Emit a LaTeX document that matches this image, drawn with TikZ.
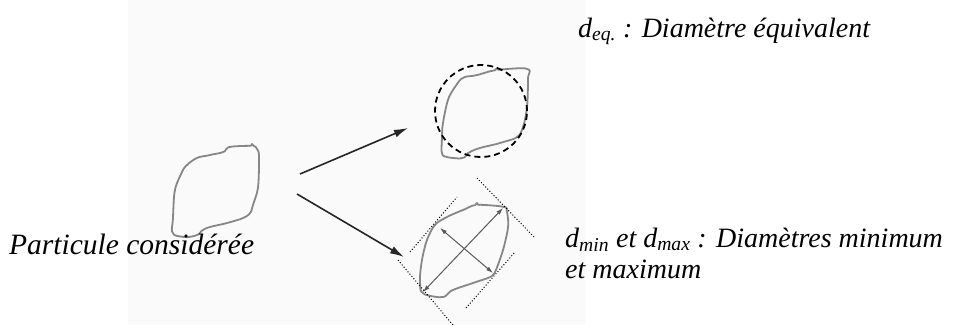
\documentclass[tikz,border=0pt]{standalone}
\usepackage{fontspec}
\setmainfont{Liberation Serif}
\usetikzlibrary{positioning}
\usetikzlibrary{calc}
\usetikzlibrary{arrows.meta}
\definecolor{contour}{RGB}{135,135,135}
\definecolor{photobg}{RGB}{250,250,250}

\tikzset{
  grain/.style={draw=contour, line width=1.8pt, line join=round, rounded corners=2pt},
  lbl/.style={inner sep=0pt, anchor=base west, font=\fontsize{28}{31}\selectfont\itshape},
  mainarrow/.style={draw=black!85, line width=1.6pt, -{Latex[length=14pt,width=8pt]}},
  diam/.style={draw=black!65, line width=1pt, {Latex[length=7pt,width=4.5pt]}-{Latex[length=7pt,width=4.5pt]}},
  tangent/.style={draw=black, line width=1pt, dotted}
}

\begin{document}
\begin{tikzpicture}[x=1pt, y=-1pt]
    \useasboundingbox (0,0) rectangle (954,325);
    % faint photo background
    \fill[photobg] (128,0) rectangle (585,325);

    % LEFT: the particle itself
    \draw[grain] plot[smooth cycle, tension=0.5] coordinates {
      (230,147) (252,146) (257,149) (259,157) (258,187) (253,205) (250,213)
      (243,218) (227,223) (210,227) (203,230) (197,235) (185,237) (173,233)
      (173,217) (175,190) (182,172) (187,165) (197,158) (210,155) (223,152)};
    \node[lbl, font=\fontsize{29.5}{31}\selectfont\itshape] (part) at (9,254) {Particule considérée};

    % arrows to both measurements
    \coordinate (src1) at (300,174);
    \coordinate (dst1) at (408,128);
    \coordinate (src2) at (297,194);
    \coordinate (dst2) at (404,257);
    \draw[mainarrow] (src1) -- (dst1);
    \draw[mainarrow] (src2) -- (dst2);

    % TOP: equivalent diameter
    \draw[grain] plot[smooth cycle, tension=0.5] coordinates {
      (527,69) (497,70) (477,75) (463,78) (455,87) (448,100) (443,123)
      (442,137) (442,153) (447,157) (462,158) (470,152) (480,148) (500,143)
      (517,137) (523,127) (527,107) (528,80)};
    \node[circle, draw=black, line width=1.8pt, dash pattern=on 6pt off 4pt,
          minimum size=92pt, inner sep=0pt] (eqcirc) at (481,111) {};
    \node[lbl] (deq) at (578,37) {d\textsubscript{eq.} : Diamètre équivalent};

    % BOTTOM: min and max diameters
    \draw[grain] plot[smooth cycle, tension=0.5] coordinates {
      (504,207) (477,205) (463,210) (447,217) (435,225) (427,240) (422,260)
      (420,280) (423,293) (442,297) (453,290) (473,283) (490,277) (495,272)
      (503,250) (508,227) (507,212)};
    \coordinate (maxa) at (423,292);
    \coordinate (maxb) at (503,208);
    \coordinate (mina) at (440,228);
    \coordinate (minb) at (493,273);
    \draw[diam] (maxa) -- (maxb);
    \draw[diam] (mina) -- (minb);
    \draw[tangent] (477,178) -- (535,238);
    \draw[tangent] (398,260) -- (453,325);
    \draw[tangent] (410,252) -- (457,197);
    \draw[tangent] (466,308) -- (515,252);
    \node[lbl] (dminmax) at (565,247) {d\textsubscript{min} et d\textsubscript{max} : Diamètres minimum};
    \node[lbl] (dminmax2) at ([yshift=-31pt]dminmax.base west) {et maximum};
\end{tikzpicture}
\end{document}
